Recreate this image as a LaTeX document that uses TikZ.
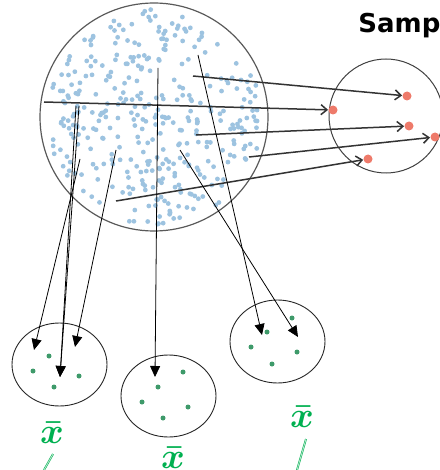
\documentclass[tikz,border=0pt]{standalone}
\usepackage{fontspec}
\setsansfont{DejaVu Sans}
\usepackage{tikz}
\usetikzlibrary{arrows.meta,calc}
\definecolor{popblue}{HTML}{9DC3E0}
\definecolor{samplered}{HTML}{EE7A6A}
\definecolor{meangreen}{HTML}{00B050}
\definecolor{dotgreen}{HTML}{3E9A6A}

\begin{document}
\begin{tikzpicture}[x=1pt, y=-1pt, line width=0.8pt,
  reddot/.style={circle, fill=samplered, inner sep=0pt, minimum size=9pt},
  gdot/.style={circle, fill=dotgreen, inner sep=0pt, minimum size=5pt},
  pick/.style={black!80, line width=1.5pt, -{Straight Barb[length=6pt,width=10pt]}},
  drop/.style={black, line width=0.8pt, -{Triangle[length=11pt,width=10pt]}},
  ring/.style={black!85, line width=0.9pt},
  mean/.style={text=meangreen, font=\Huge\boldmath, scale=1.45, transform shape, inner sep=0pt, anchor=base},
  slash/.style={meangreen, line width=0.5pt, double=meangreen!30, double distance=0.9pt}]
\useasboundingbox (0,0) rectangle (439,470);

% population
\coordinate (P) at (154,117);
\pgfmathsetseed{11}
\foreach \i in {1,...,360} {
  \pgfmathsetmacro{\rr}{108*sqrt(rnd)}
  \pgfmathsetmacro{\aa}{360*rnd}
  \fill[popblue] ($(P)+(\aa:\rr)$) circle (2.4);
}
\draw[black!65, line width=1.2pt] (P) circle (114);

% sample
\coordinate (S) at (386,116);
\draw[black!75, line width=1pt] (S) circle (57);
\node[font=\sffamily\bfseries\fontsize{26}{28}\selectfont, anchor=base west, inner sep=0pt] (title) at (358,33) {Sample};

\node[reddot] (R1) at (407,96)  {};
\node[reddot] (R2) at (333,110) {};
\node[reddot] (R3) at (409,126) {};
\node[reddot] (R4) at (435,137) {};
\node[reddot] (R5) at (368,159) {};

\coordinate (A1) at (193,76) ;
\coordinate (A2) at (44,102) ;
\coordinate (A3) at (196,135) ;
\coordinate (A4) at (249,157) ;
\coordinate (A5) at (116,201) ;
\draw[pick] (A1) -- (R1);
\draw[pick] (A2) -- (R2);
\draw[pick] (A3) -- (R3);
\draw[pick] (A4) -- (R4);
\draw[pick] (A5) -- (R5);

% repeated samples
\coordinate (E1) at (59.5,364.5) ;
\coordinate (E2) at (168.5,396) ;
\coordinate (E3) at (277.5,341.5) ;
\draw[ring] (E1) ellipse [x radius=47.5, y radius=41.5];
\draw[ring] (E2) ellipse [x radius=47.5, y radius=41];
\draw[ring] (E3) ellipse [x radius=47.5, y radius=41.5];

\node[gdot] (G11) at (49,356) {};
\node[gdot] (G12) at (33,371) {};
\node[gdot] (G13) at (79,376) {};
\node[gdot] (G14) at (54,387) {};
\node[gdot] (G21) at (183,372) {};
\node[gdot] (G22) at (158,387) {};
\node[gdot] (G23) at (142,402) {};
\node[gdot] (G24) at (188,407) {};
\node[gdot] (G25) at (163,418) {};
\node[gdot] (G31) at (292,318) {};
\node[gdot] (G32) at (267,332) {};
\node[gdot] (G33) at (251,347) {};
\node[gdot] (G34) at (297,352) {};
\node[gdot] (G35) at (272,364) {};

\coordinate (B1) at (80,159) ;
\coordinate (B2) at (76,106) ;
\coordinate (B3) at (79,106) ;
\coordinate (B4) at (116,150) ;
\coordinate (B5) at (158,68) ;
\coordinate (B6) at (198,55) ;
\coordinate (B7) at (180,150) ;
\coordinate (T1) at (34,350) ;
\coordinate (T2) at (60,377) ;
\coordinate (T3) at (75,347) ;
\coordinate (T4) at (155,377) ;
\coordinate (T5) at (262,335) ;
\coordinate (T6) at (298,337) ;
\draw[drop] (B1) -- (T1);
\draw[drop] (B2) -- (T2);
\draw[drop] (B3) -- (T2);
\draw[drop] (B4) -- (T3);
\draw[drop] (B5) -- (T4);
\draw[drop] (B6) -- (T5);
\draw[drop] (B7) -- (T6);

% means
\node[mean] (M1) at (52,443) {$\bar{x}$};
\node[mean] (M2) at (173,468) {$\bar{x}$};
\node[mean] (M3) at (302,427) {$\bar{x}$};
\coordinate (L1) at (53,454) ;
\coordinate (L2) at (44,470) ;
\coordinate (L3) at (306,439) ;
\coordinate (L4) at (297,470) ;
\draw[slash] (L1) -- (L2);
\draw[slash] (L3) -- (L4);

\end{tikzpicture}
\end{document}
